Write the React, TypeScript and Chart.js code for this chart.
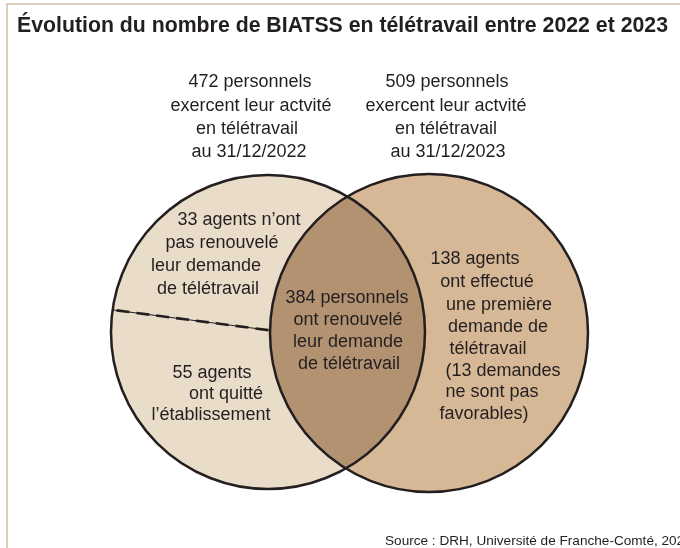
import React, { useEffect, useRef } from "react";
import { Chart, registerables } from "chart.js";

Chart.register(...registerables);

// ---- Data ----
const setDates = ["31/12/2022", "31/12/2023"];
const setTotals = [472, 509];
const renewedCount = 384;
const notRenewedCount = 33;
const leftCount = 55;
const firstRequestCount = 138;
const unfavourableCount = 13;

const titleText = "Évolution du nombre de BIATSS en télétravail entre 2022 et 2023";
const sourceText = "Source : DRH, Université de Franche-Comté, 2023";

// ---- Layout (canvas units, not data) ----
const CIRCLES = [
  { x: 268, y: 332, r: 157 },
  { x: 429, y: 333, r: 159 },
];
const FILL_LEFT = "#e9dcc8";
const FILL_RIGHT = "#d6b896";
const FILL_BOTH = "#b39272";
const STROKE = "#231f20";
const TEXT = "#231f20";
const FRAME = "#d2bfa9";
const FONT = '"Liberation Sans", Arial, Helvetica, sans-serif';

type Block = { lines: string[]; xs: number[]; ys: number[] };

const blocks: Block[] = [
  {
    lines: [`${setTotals[0]} personnels`, "exercent leur actvité", "en télétravail", `au ${setDates[0]}`],
    xs: [250, 251, 247, 249],
    ys: [87, 110.5, 134, 157],
  },
  {
    lines: [`${setTotals[1]} personnels`, "exercent leur actvité", "en télétravail", `au ${setDates[1]}`],
    xs: [447, 446, 446, 448],
    ys: [87, 110.5, 134, 157],
  },
  {
    lines: [`${notRenewedCount} agents n’ont`, "pas renouvelé", "leur demande", "de télétravail"],
    xs: [239, 222, 206, 208],
    ys: [225, 248, 271, 294],
  },
  {
    lines: [`${renewedCount} personnels`, "ont renouvelé", "leur demande", "de télétravail"],
    xs: [347, 348, 348, 349],
    ys: [303, 325, 347, 369],
  },
  {
    lines: [`${leftCount} agents`, "ont quitté", "l’établissement"],
    xs: [212, 226, 211],
    ys: [378, 399, 420],
  },
  {
    lines: [
      `${firstRequestCount} agents`,
      "ont effectué",
      "une première",
      "demande de",
      "télétravail",
      `(${unfavourableCount} demandes`,
      "ne sont pas",
      "favorables)",
    ],
    xs: [475, 487, 499, 498, 488, 503, 492, 484],
    ys: [264, 287, 310, 332, 354, 376, 397, 419],
  },
];

function drawFitted(ctx: CanvasRenderingContext2D, text: string, x: number, y: number, width: number) {
  const w = ctx.measureText(text).width;
  ctx.save();
  ctx.translate(x, y);
  ctx.scale(width / w, 1);
  ctx.textAlign = "left";
  ctx.fillText(text, 0, 0);
  ctx.restore();
}

const vennPlugin = {
  id: "venn",
  beforeDatasetsDraw(chart: any) {
    const ctx: CanvasRenderingContext2D = chart.ctx;
    const xs = chart.scales.x;
    const ys = chart.scales.y;
    ctx.save();
    ctx.strokeStyle = FRAME;
    ctx.lineWidth = 1.5;
    ctx.beginPath();
    ctx.moveTo(xs.getPixelForValue(680), ys.getPixelForValue(4));
    ctx.lineTo(xs.getPixelForValue(7), ys.getPixelForValue(4));
    ctx.lineTo(xs.getPixelForValue(7), ys.getPixelForValue(548));
    ctx.stroke();
    ctx.restore();
  },
  afterDatasetsDraw(chart: any) {
    const ctx: CanvasRenderingContext2D = chart.ctx;
    const xs = chart.scales.x;
    const ys = chart.scales.y;
    const els = chart.getDatasetMeta(0).data.map((e: any, i: number) => ({
      x: e.x,
      y: e.y,
      r: chart.data.datasets[0].data[i].r,
    }));
    const [a, b] = els;
    ctx.save();
    ctx.beginPath();
    ctx.arc(a.x, a.y, a.r, 0, Math.PI * 2);
    ctx.clip();
    ctx.beginPath();
    ctx.arc(b.x, b.y, b.r, 0, Math.PI * 2);
    ctx.fillStyle = FILL_BOTH;
    ctx.fill();
    ctx.restore();

    // separator line in left-only area
    const ang = (188.1 * Math.PI) / 180;
    const p0 = { x: a.x + a.r * Math.cos(ang), y: a.y + a.r * Math.sin(ang) };
    const slope = Math.tan((7.4 * Math.PI) / 180);
    let p1 = { x: p0.x, y: p0.y };
    for (let t = 0; t < 400; t += 0.25) {
      const px = p0.x + t;
      const py = p0.y + t * slope;
      if (Math.hypot(px - b.x, py - b.y) <= b.r) {
        p1 = { x: px, y: py };
        break;
      }
    }
    ctx.save();
    ctx.strokeStyle = STROKE;
    ctx.lineWidth = 1;
    ctx.beginPath();
    ctx.moveTo(p0.x, p0.y);
    ctx.lineTo(p1.x, p1.y);
    ctx.stroke();
    ctx.lineWidth = 2.6;
    ctx.setLineDash([13, 7]);
    ctx.beginPath();
    ctx.moveTo(p0.x + 4, p0.y + 4 * slope);
    ctx.lineTo(p1.x, p1.y);
    ctx.stroke();
    ctx.restore();

    ctx.save();
    ctx.strokeStyle = STROKE;
    ctx.lineWidth = 2.5;
    for (const c of els) {
      ctx.beginPath();
      ctx.arc(c.x, c.y, c.r, 0, Math.PI * 2);
      ctx.stroke();
    }
    ctx.restore();

    ctx.save();
    ctx.fillStyle = TEXT;
    ctx.textBaseline = "alphabetic";
    ctx.font = `bold 22px ${FONT}`;
    drawFitted(ctx, titleText, xs.getPixelForValue(17), ys.getPixelForValue(32), 651);

    ctx.font = `18px ${FONT}`;
    ctx.textAlign = "center";
    for (const blk of blocks) {
      blk.lines.forEach((ln, i) => {
        ctx.fillText(ln, xs.getPixelForValue(blk.xs[i]), ys.getPixelForValue(blk.ys[i]));
      });
    }
    ctx.font = `13.6px ${FONT}`;
    ctx.textAlign = "left";
    ctx.fillText(sourceText, xs.getPixelForValue(385), ys.getPixelForValue(545));
    ctx.restore();
  },
};

export default function App() {
  const ref = useRef<HTMLCanvasElement | null>(null);
  useEffect(() => {
    if (!ref.current) return;
    const chart = new Chart(ref.current, {
      type: "bubble",
      data: {
        labels: setDates,
        datasets: [
          {
            data: CIRCLES.map((c) => ({ x: c.x, y: c.y, r: c.r })),
            backgroundColor: [FILL_LEFT, FILL_RIGHT],
            borderWidth: 0,
            clip: false as any,
          } as any,
        ],
      },
      options: {
        animation: false,
        responsive: false,
        devicePixelRatio: 1,
        events: [],
        layout: { padding: 0, autoPadding: false } as any,
        plugins: { legend: { display: false }, tooltip: { enabled: false }, title: { display: false } },
        scales: {
          x: { type: "linear", min: 0, max: 680, display: false },
          y: { type: "linear", min: 0, max: 548, reverse: true, display: false },
        },
      },
      plugins: [vennPlugin],
    });
    return () => chart.destroy();
  }, []);
  return (
    <div style={{ position: "absolute", left: 0, top: 0, width: 680, height: 548, background: "#fff" }}>
      <canvas ref={ref} width={680} height={548} style={{ display: "block" }} />
    </div>
  );
}
